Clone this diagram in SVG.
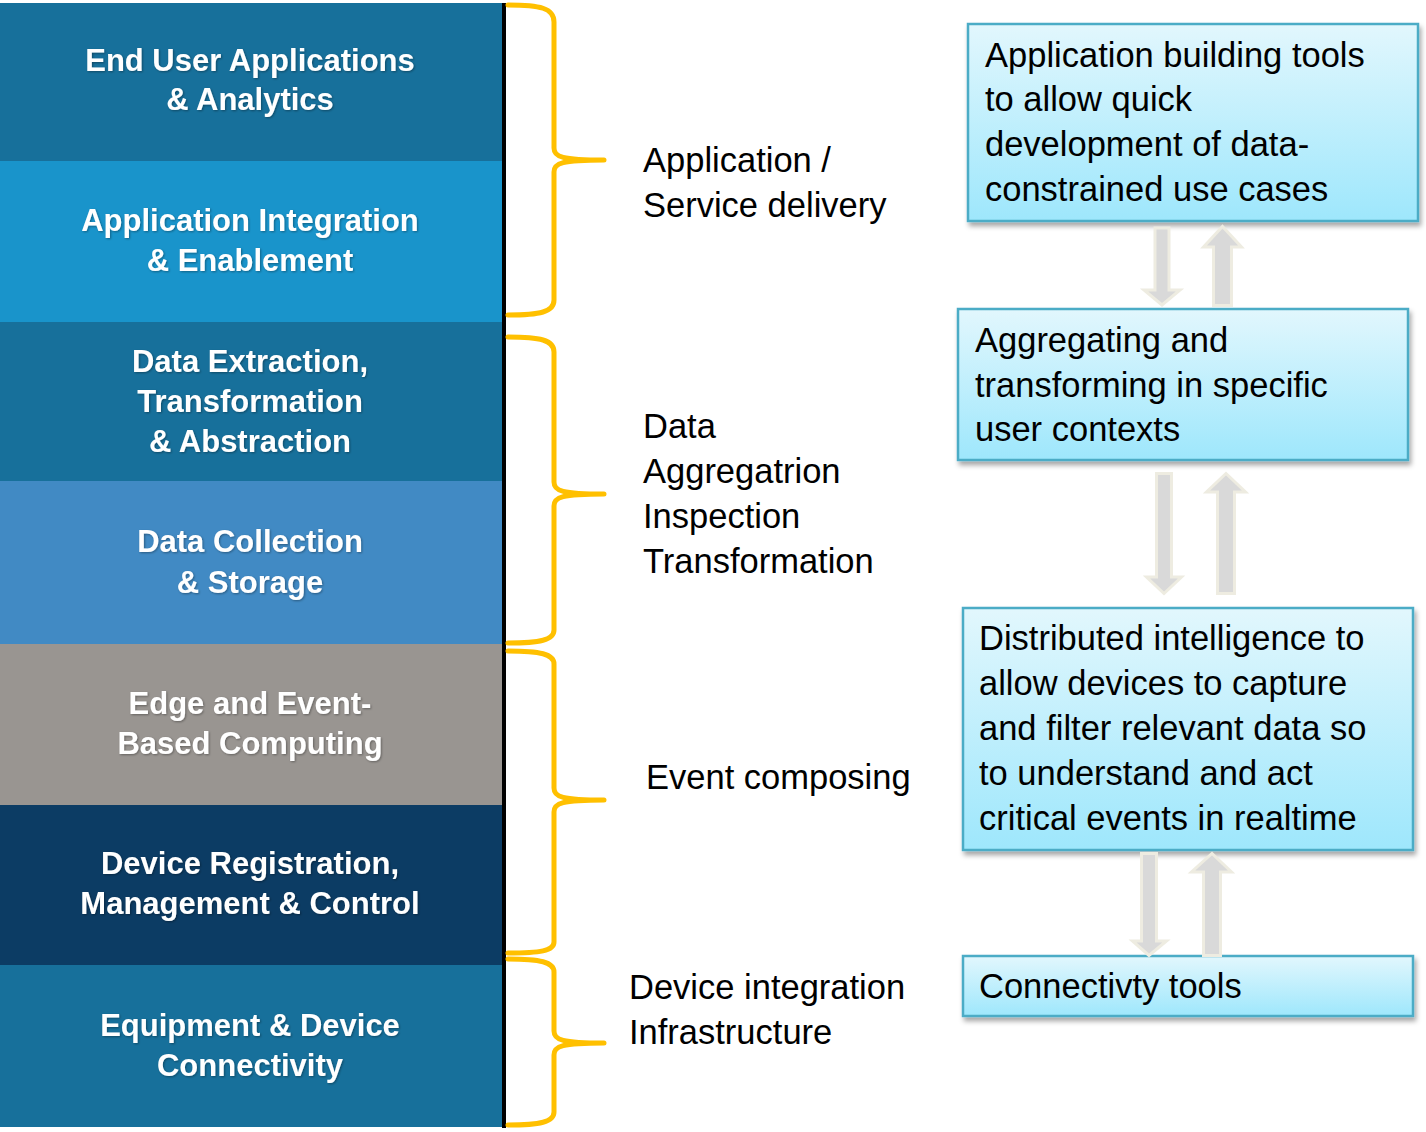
<svg xmlns="http://www.w3.org/2000/svg" width="1426" height="1132" viewBox="0 0 1426 1132">
<defs>
<linearGradient id="boxGrad" x1="0" y1="0" x2="0" y2="1">
<stop offset="0" stop-color="#e2f7fd"/>
<stop offset="1" stop-color="#9ee7fc"/>
</linearGradient>
<filter id="boxShadow" x="-5%" y="-10%" width="115%" height="130%">
<feDropShadow dx="2" dy="4" stdDeviation="2.5" flood-color="#000" flood-opacity="0.35"/>
</filter>
<filter id="txtShadow" x="-5%" y="-20%" width="110%" height="150%">
<feDropShadow dx="1" dy="1" stdDeviation="0.8" flood-color="#000" flood-opacity="0.35"/>
</filter>
</defs>
<style>
.layer-text{font-family:"Liberation Sans",Arial,sans-serif;font-weight:bold;font-size:31px;fill:#ffffff;text-anchor:middle;filter:url(#txtShadow);}
.label{font-family:"Liberation Sans",Arial,sans-serif;font-size:34.5px;fill:#000000;}
.box{fill:url(#boxGrad);stroke:#4bacc6;stroke-width:2.5;filter:url(#boxShadow);}
.brace{fill:none;stroke:#ffc000;stroke-width:5;stroke-linecap:round;stroke-linejoin:round;}
.arrow{fill:#d9d9d9;stroke:#eeece1;stroke-width:3;stroke-linejoin:miter;}
</style>
<rect width="1426" height="1132" fill="#ffffff"/>

<g id="layer-end-user">
<rect x="0" y="3" width="503" height="159" fill="#17709b"/>
<text class="layer-text" x="250" y="71">End User Applications</text>
<text class="layer-text" x="250" y="110">&amp; Analytics</text>
</g>
<g id="layer-app-integration">
<rect x="0" y="161" width="503" height="162" fill="#1994cb"/>
<text class="layer-text" x="250" y="231">Application Integration</text>
<text class="layer-text" x="250" y="271">&amp; Enablement</text>
</g>
<g id="layer-data-extraction">
<rect x="0" y="322" width="503" height="160" fill="#17709b"/>
<text class="layer-text" x="250" y="372">Data Extraction,</text>
<text class="layer-text" x="250" y="412">Transformation</text>
<text class="layer-text" x="250" y="452">&amp; Abstraction</text>
</g>
<g id="layer-data-collection">
<rect x="0" y="481" width="503" height="164" fill="#418ac4"/>
<text class="layer-text" x="250" y="552">Data Collection</text>
<text class="layer-text" x="250" y="593">&amp; Storage</text>
</g>
<g id="layer-edge">
<rect x="0" y="644" width="503" height="162" fill="#999591"/>
<text class="layer-text" x="250" y="714">Edge and Event-</text>
<text class="layer-text" x="250" y="754">Based Computing</text>
</g>
<g id="layer-device-registration">
<rect x="0" y="805" width="503" height="161" fill="#0c3c64"/>
<text class="layer-text" x="250" y="874">Device Registration,</text>
<text class="layer-text" x="250" y="914">Management &amp; Control</text>
</g>
<g id="layer-equipment">
<rect x="0" y="965" width="503" height="162" fill="#17709b"/>
<text class="layer-text" x="250" y="1036">Equipment &amp; Device</text>
<text class="layer-text" x="250" y="1076">Connectivity</text>
</g>
<g id="stack-edge">
<rect x="502" y="3" width="4" height="1125" fill="#000000"/>
</g>

<g id="brace-application">
<path class="brace" d="M508,5 C540,5 554,8 554,22 L554,148 C554,157 562,160 604,160 C562,160 554,163 554,172 L554,300 C554,312 540,315 508,315"/>
</g>
<g id="brace-data">
<path class="brace" d="M508,337 C540,337 554,340 554,352 L554,482 C554,491 562,494 604,494 C562,494 554,497 554,506 L554,630 C554,640 540,643 508,643"/>
</g>
<g id="brace-event">
<path class="brace" d="M508,651 C540,651 554,654 554,664 L554,788 C554,797 562,800 604,800 C562,800 554,803 554,812 L554,942 C554,951 540,953 508,953"/>
</g>
<g id="brace-device">
<path class="brace" d="M508,959 C540,959 554,962 554,972 L554,1031 C554,1040 562,1043 604,1043 C562,1043 554,1046 554,1055 L554,1112 C554,1122 540,1125 508,1125"/>
</g>

<g id="label-application">
<text class="label" x="643" y="172">Application /</text>
<text class="label" x="643" y="217">Service delivery</text>
</g>
<g id="label-data">
<text class="label" x="643" y="438">Data</text>
<text class="label" x="643" y="483">Aggregatrion</text>
<text class="label" x="643" y="528">Inspection</text>
<text class="label" x="643" y="573">Transformation</text>
</g>
<g id="label-event">
<text class="label" x="646" y="789">Event composing</text>
</g>
<g id="label-device">
<text class="label" x="629" y="999">Device integration</text>
<text class="label" x="629" y="1044">Infrastructure</text>
</g>

<g id="box-app-tools">
<rect class="box" x="968" y="24" width="450" height="197"/>
<text class="label" x="985" y="67">Application building tools</text>
<text class="label" x="985" y="111">to allow quick</text>
<text class="label" x="985" y="156">development of data-</text>
<text class="label" x="985" y="201">constrained use cases</text>
</g>
<g id="box-aggregating">
<rect class="box" x="958" y="309" width="450" height="151"/>
<text class="label" x="975" y="352">Aggregating and</text>
<text class="label" x="975" y="397">transforming in specific</text>
<text class="label" x="975" y="441">user contexts</text>
</g>
<g id="box-distributed">
<rect class="box" x="963" y="608" width="450" height="242"/>
<text class="label" x="979" y="650">Distributed intelligence to</text>
<text class="label" x="979" y="695">allow devices to capture</text>
<text class="label" x="979" y="740">and filter relevant data so</text>
<text class="label" x="979" y="785">to understand and act</text>
<text class="label" x="979" y="830">critical events in realtime</text>
</g>
<g id="box-connectivity">
<rect class="box" x="963" y="956" width="450" height="60"/>
<text class="label" x="979" y="998">Connectivty tools</text>
</g>

<g id="connectors">
<polygon class="arrow" points="1155,228 1169,228 1169,290 1180,290 1162,305 1144,290 1155,290"/>
<polygon class="arrow" points="1222.5,226.5 1241.5,247 1231.5,247 1231.5,305.5 1213.5,305.5 1213.5,247 1203.5,247"/>
<polygon class="arrow" points="1156.5,473.5 1171.5,473.5 1171.5,577 1181.5,577 1164,593.5 1146.5,577 1156.5,577"/>
<polygon class="arrow" points="1226,473.5 1245.5,492 1234.5,492 1234.5,593.5 1217.5,593.5 1217.5,492 1206.5,492"/>
<polygon class="arrow" points="1141.5,853.5 1156.5,853.5 1156.5,941 1166.5,941 1149,955.5 1132.5,941 1141.5,941"/>
<polygon class="arrow" points="1212,853.5 1231.5,872 1220.5,872 1220.5,955.5 1203.5,955.5 1203.5,872 1191.5,872"/>
</g>
</svg>
